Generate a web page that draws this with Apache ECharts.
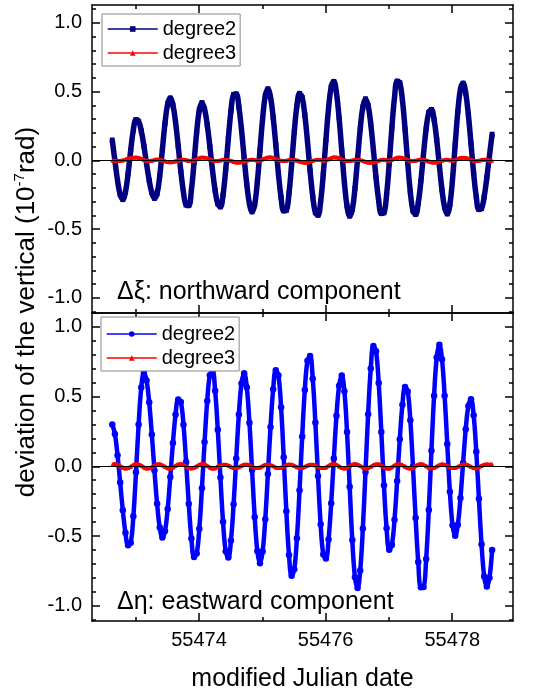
<!DOCTYPE html>
<html><head><meta charset="utf-8">
<script src="https://cdn.jsdelivr.net/npm/echarts@6/dist/echarts.min.js"></script>
<style>html,body{margin:0;padding:0;background:#fff}#c{width:541px;height:695px}</style>
</head><body><div id="c"></div>
<script>
// ---- data (hourly samples starting at startMJD) ----
const startMJD = 55472.63;
const stepDays = 1 / 24;
const northDegree2 = [
0.148,-0.001,-0.146,-0.249,-0.285,-0.231,-0.096,0.075,0.222,0.296,
0.284,0.215,0.105,-0.024,-0.145,-0.235,-0.276,-0.242,-0.112,0.078,
0.271,0.410,0.453,0.402,0.277,0.103,-0.080,-0.233,-0.324,-0.329,
-0.217,-0.016,0.204,0.367,0.420,0.373,0.259,0.100,-0.071,-0.219,
-0.315,-0.338,-0.252,-0.069,0.157,0.360,0.479,0.483,0.389,0.222,
0.019,-0.174,-0.316,-0.374,-0.322,-0.157,0.073,0.303,0.468,0.520,
0.460,0.313,0.113,-0.097,-0.270,-0.367,-0.363,-0.240,-0.028,0.207,
0.398,0.487,0.457,0.331,0.139,-0.075,-0.262,-0.380,-0.399,-0.299,
-0.099,0.148,0.379,0.534,0.573,0.490,0.308,0.073,-0.160,-0.333,
-0.405,-0.357,-0.205,0.010,0.228,0.388,0.447,0.398,0.264,0.075,
-0.125,-0.292,-0.386,-0.381,-0.249,-0.022,0.237,0.456,0.576,0.565,
0.438,0.227,-0.015,-0.231,-0.368,-0.393,-0.312,-0.150,0.048,0.231,
0.349,0.370,0.297,0.150,-0.036,-0.215,-0.342,-0.389,-0.321,-0.136,
0.113,0.354,0.519,0.561,0.489,0.331,0.121,-0.094,-0.266,-0.357,
-0.350,-0.265,-0.125,0.035,0.190];
const northDegree3 = [
0.000,-0.003,-0.005,-0.004,0.000,0.006,0.012,0.017,0.020,0.021,
0.018,0.011,0.003,-0.003,-0.005,-0.002,0.003,0.006,0.005,0.000,
-0.007,-0.012,-0.014,-0.012,-0.007,-0.001,0.003,0.004,0.001,-0.003,
-0.004,0.000,0.008,0.016,0.021,0.020,0.015,0.007,0.000,-0.004,
-0.004,0.000,0.004,0.005,0.002,-0.004,-0.010,-0.015,-0.016,-0.013,
-0.007,-0.001,0.003,0.004,0.002,-0.002,0.000,0.007,0.015,0.021,
0.022,0.018,0.010,0.002,-0.003,-0.005,-0.002,0.003,0.005,0.004,
-0.001,-0.008,-0.014,-0.017,-0.015,-0.009,-0.003,0.002,0.004,0.002,
-0.002,0.001,0.008,0.016,0.022,0.021,0.016,0.008,0.000,-0.004,
-0.004,0.000,0.004,0.005,0.002,-0.004,-0.011,-0.016,-0.017,-0.014,
-0.008,-0.002,0.003,0.004,0.001,-0.002,0.003,0.011,0.019,0.021,
0.018,0.011,0.003,-0.003,-0.005,-0.002,0.003,0.005,0.004,-0.001,
-0.008,-0.014,-0.016,-0.014,-0.008,-0.002,0.003,0.004,0.001,-0.002,
0.002,0.010,0.017,0.020,0.018,0.012,0.004,-0.002,-0.004,-0.002,
0.002,0.004,0.003,0.000,-0.002];
const eastDegree2 = [
0.300,0.232,0.080,-0.116,-0.316,-0.477,-0.566,-0.549,-0.359,-0.043,
0.300,0.565,0.669,0.616,0.460,0.229,-0.030,-0.268,-0.440,-0.510,
-0.464,-0.307,-0.077,0.168,0.371,0.479,0.461,0.298,0.031,-0.268,
-0.518,-0.650,-0.626,-0.448,-0.157,0.174,0.469,0.654,0.684,0.543,
0.263,-0.081,-0.398,-0.609,-0.655,-0.532,-0.273,0.056,0.372,0.595,
0.668,0.567,0.313,-0.026,-0.363,-0.607,-0.696,-0.612,-0.380,-0.056,
0.282,0.552,0.689,0.651,0.423,0.065,-0.323,-0.636,-0.786,-0.738,
-0.516,-0.172,0.213,0.548,0.757,0.791,0.629,0.314,-0.069,-0.416,
-0.632,-0.661,-0.525,-0.265,0.056,0.362,0.578,0.652,0.538,0.246,
-0.146,-0.529,-0.796,-0.874,-0.747,-0.446,-0.040,0.374,0.701,0.863,
0.825,0.598,0.247,-0.136,-0.445,-0.598,-0.564,-0.383,-0.106,0.195,
0.441,0.569,0.537,0.330,-0.002,-0.371,-0.687,-0.868,-0.866,-0.666,
-0.313,0.111,0.506,0.781,0.873,0.769,0.506,0.160,-0.183,-0.423,
-0.499,-0.419,-0.227,0.024,0.266,0.433,0.481,0.366,0.105,-0.233,
-0.560,-0.790,-0.863,-0.800,-0.600];
const eastDegree3 = [
0.012,0.016,0.012,0.001,-0.010,-0.016,-0.013,-0.003,0.009,0.016,
0.014,0.004,-0.008,-0.015,-0.014,-0.006,0.006,0.015,0.015,0.007,
-0.004,-0.014,-0.016,-0.009,0.003,0.013,0.016,0.010,-0.001,-0.012,
-0.016,-0.011,-0.001,0.011,0.016,0.013,0.002,-0.009,-0.016,-0.014,
-0.003,0.006,0.012,0.012,0.005,-0.005,-0.012,-0.012,-0.006,0.004,
0.011,0.013,0.007,-0.002,-0.011,-0.013,-0.008,0.001,0.010,0.013,
0.009,0.000,-0.009,-0.013,-0.010,-0.002,0.008,0.013,0.011,0.003,
-0.006,-0.012,-0.012,-0.004,0.005,0.012,0.012,0.006,-0.004,-0.011,
-0.013,-0.009,0.003,0.013,0.016,0.010,-0.001,-0.012,-0.016,-0.011,
0.000,0.011,0.016,0.012,0.002,-0.009,-0.016,-0.013,-0.004,0.008,
0.015,0.014,0.005,-0.006,-0.015,-0.015,-0.007,0.005,0.014,0.015,
0.008,-0.003,-0.013,-0.016,-0.010,0.002,0.012,0.016,0.011,0.000,
-0.010,-0.014,-0.011,-0.002,0.008,0.014,0.012,0.003,-0.007,-0.013,
-0.012,-0.005,0.006,0.013,0.013,0.006,-0.004,-0.012,-0.014,-0.007,
0.003,0.012,0.014,0.012,0.016];
const xMajorTicks = [55474, 55476, 55478];
const xMinorTicks = [55473, 55475, 55477];
const yMajorTicks = [-1.0, -0.5, 0.0, 0.5, 1.0];
const yMinorTicks = [-1.1,-0.9,-0.8,-0.7,-0.6,-0.4,-0.3,-0.2,-0.1,0.1,0.2,0.3,0.4,0.6,0.7,0.8,0.9,1.1];
const legendNames = ['degree2', 'degree3'];
const panelLabels = ['Δξ: northward component', 'Δη: eastward component'];
const xTitle = 'modified Julian date';

// ---- layout / style ----
const FONT = '"Liberation Sans", Arial, Helvetica, sans-serif';
const xMin = 55472.31, xMax = 55478.96;
const yRanges = [[-1.11, 1.13], [-1.11, 1.10]];
const grids = [
  {left: 92, right: 28, top: 5, height: 308},
  {left: 92, right: 28, top: 313, height: 308}
];
const toPairs = vals => vals.map((v, i) => [startMJD + i * stepDays, v]);
const black = {color: '#000', width: 1.5};

const xAxes = [], yAxes = [];
grids.forEach((g, gi) => {
  ['bottom', 'top'].forEach(pos => {
    const isMainLabel = gi === 1 && pos === 'bottom';
    xAxes.push({
      type: 'value', gridIndex: gi, position: pos, min: xMin, max: xMax,
      axisLine: {show: true, onZero: false, lineStyle: black},
      axisTick: {show: true, inside: true, length: 8, customValues: xMajorTicks, lineStyle: black},
      axisLabel: {show: isMainLabel, customValues: xMajorTicks, formatter: v => String(v),
        fontSize: 20, color: '#000', fontFamily: FONT, margin: 9},
      splitLine: {show: false},
      name: isMainLabel ? xTitle : '', nameLocation: 'middle', nameGap: 46,
      nameTextStyle: {fontSize: 25, color: '#000', fontFamily: FONT}
    });
    xAxes.push({
      type: 'value', gridIndex: gi, position: pos, min: xMin, max: xMax,
      axisLine: {show: false, onZero: false},
      axisTick: {show: true, inside: true, length: 4, customValues: xMinorTicks, lineStyle: black},
      axisLabel: {show: false}, splitLine: {show: false}
    });
  });
  ['left', 'right'].forEach(pos => {
    yAxes.push({
      type: 'value', gridIndex: gi, position: pos, min: yRanges[gi][0], max: yRanges[gi][1],
      axisLine: {show: true, onZero: false, lineStyle: black},
      axisTick: {show: true, inside: true, length: 8, customValues: yMajorTicks, lineStyle: black},
      axisLabel: {show: pos === 'left', customValues: yMajorTicks, formatter: v => Number(v).toFixed(1),
        fontSize: 20, color: '#000', fontFamily: FONT, margin: 10},
      splitLine: {show: false}
    });
    yAxes.push({
      type: 'value', gridIndex: gi, position: pos, min: yRanges[gi][0], max: yRanges[gi][1],
      axisLine: {show: false, onZero: false},
      axisTick: {show: true, inside: true, length: 4, customValues: yMinorTicks, lineStyle: black},
      axisLabel: {show: false}, splitLine: {show: false}
    });
  });
});

const zeroLine = (gi) => ({
  type: 'line', xAxisIndex: gi * 4, yAxisIndex: gi * 4, data: [], z: 3, silent: true,
  markLine: {silent: true, symbol: ['none', 'none'], label: {show: false}, animation: false,
    lineStyle: {color: '#000', width: 1, type: 'solid'}, data: [{yAxis: 0}]}
});

const series = [
  {name: 'degree2', type: 'line', xAxisIndex: 0, yAxisIndex: 0, data: toPairs(northDegree2),
   smooth: 0.4, symbol: 'rect', symbolSize: 5, showAllSymbol: true, z: 2,
   lineStyle: {color: '#000080', width: 5.5}, itemStyle: {color: '#000080'}},
  zeroLine(0),
  {name: 'degree3', type: 'line', xAxisIndex: 0, yAxisIndex: 0, data: toPairs(northDegree3),
   smooth: 0.4, symbol: 'triangle', symbolSize: 4, showAllSymbol: true, z: 4,
   lineStyle: {color: '#ff0000', width: 4}, itemStyle: {color: '#ff0000'}},
  {name: 'east degree2', type: 'line', xAxisIndex: 4, yAxisIndex: 4, data: toPairs(eastDegree2),
   smooth: 0.4, symbol: 'circle', symbolSize: 6.5, showAllSymbol: true, z: 2,
   lineStyle: {color: '#0000ff', width: 4.5}, itemStyle: {color: '#0000ff'}},
  zeroLine(1),
  {name: 'east degree3', type: 'line', xAxisIndex: 4, yAxisIndex: 4, data: toPairs(eastDegree3),
   smooth: 0.4, symbol: 'triangle', symbolSize: 4, showAllSymbol: true, z: 4,
   lineStyle: {color: '#ff0000', width: 4}, itemStyle: {color: '#ff0000'}}
];

const legendBase = {
  orient: 'vertical', itemWidth: 50, itemHeight: 7, itemGap: 4, selectedMode: false,
  borderColor: '#888', borderWidth: 1, backgroundColor: '#fff', borderRadius: 0,
  textStyle: {fontSize: 20, color: '#000', fontFamily: FONT},
  lineStyle: {width: 1.5}
};

const chart = echarts.init(document.getElementById('c'), null, {renderer: 'canvas'});
chart.setOption({
  animation: false,
  backgroundColor: '#fff',
  grid: grids,
  xAxis: xAxes,
  yAxis: yAxes,
  legend: [
    Object.assign({}, legendBase, {left: 102, top: 14, padding: [5, 4, 3, 5], data: legendNames}),
    Object.assign({}, legendBase, {left: 101, top: 317, padding: [7, 4, 3, 5],
      data: legendNames.map(n => 'east ' + n), formatter: n => n.replace(/^east /, '')})
  ],
  graphic: [
    {type: 'text', x: 27, y: 312, rotation: Math.PI / 2, z: 10,
     style: {text: '{a|deviation of the vertical (10}{s|-7}{a|rad)}', align: 'center', verticalAlign: 'middle',
       rich: {a: {fontSize: 26, fontFamily: FONT, fill: '#000', lineHeight: 30},
              s: {fontSize: 15, fontFamily: FONT, fill: '#000', verticalAlign: 'top'}}}},
    {type: 'text', x: 117, y: 292, z: 10,
     style: {text: panelLabels[0], fontSize: 25, fontFamily: FONT, fill: '#000', align: 'left', verticalAlign: 'middle'}},
    {type: 'text', x: 117, y: 602, z: 10,
     style: {text: panelLabels[1], fontSize: 25, fontFamily: FONT, fill: '#000', align: 'left', verticalAlign: 'middle'}}
  ],
  series: series
});
</script></body></html>
